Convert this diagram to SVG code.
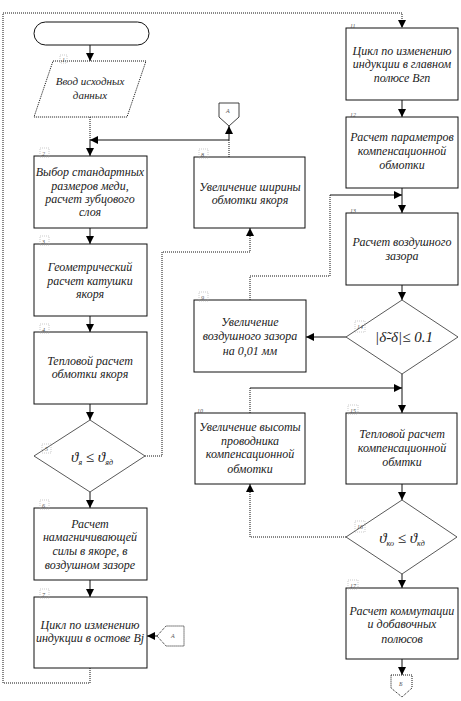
<svg xmlns="http://www.w3.org/2000/svg" width="461" height="701" viewBox="0 0 461 701">
<style>
.b{fill:#fff;stroke:#111;stroke-width:1}
.t{font-family:'Liberation Serif','Times New Roman',serif;font-style:italic;font-size:12px;fill:#222;text-anchor:middle}
.f{font-family:'Liberation Serif','Times New Roman',serif;font-style:italic;font-size:15px;fill:#222;text-anchor:middle}
.n{font-family:'Liberation Serif',serif;font-style:italic;font-size:6px;fill:#555}
.nb{fill:none;stroke:#aaa;stroke-width:0.6;stroke-dasharray:1 1}
.c{fill:none;stroke:#111;stroke-width:1}
.d{fill:none;stroke:#111;stroke-width:1;stroke-dasharray:1 1}
</style>
<defs>
<marker id="a" markerUnits="userSpaceOnUse" markerWidth="9" markerHeight="8" refX="8" refY="4" orient="auto">
<path d="M0,0 L8,4 L0,8 Z" fill="#000"/>
</marker>
</defs>
<g id="connectors">
<path class="c" d="M90,45 V61" marker-end="url(#a)"/>
<path class="d" d="M90,117 V140"/>
<path class="c" d="M90,140 V156" marker-end="url(#a)"/>
<path class="d" d="M229,157 V140"/>
<path class="c" d="M229,140 V126" marker-end="url(#a)"/>
<path class="c" d="M229,140 H90" marker-end="url(#a)"/>
<path class="c" d="M90,228 V244" marker-end="url(#a)"/>
<path class="c" d="M90,316 V332" marker-end="url(#a)"/>
<path class="c" d="M90,404 V420" marker-end="url(#a)"/>
<path class="c" d="M90,492 V508" marker-end="url(#a)"/>
<path class="c" d="M90,580 V597" marker-end="url(#a)"/>
<path class="c" d="M157,636 H147" marker-end="url(#a)"/>
<path class="d" d="M90,668 V683 H3 V13 H402 V28" marker-end="url(#a)"/>
<path class="d" d="M145,456 H162 V252 H250 V228" marker-end="url(#a)"/>
<path class="c" d="M402,100 V117" marker-end="url(#a)"/>
<path class="c" d="M402,188 V213" marker-end="url(#a)"/>
<path class="d" d="M250,300 V276 H330 V195"/>
<path class="c" d="M330,195 H402" marker-end="url(#a)"/>
<path class="c" d="M402,285 V300" marker-end="url(#a)"/>
<path class="c" d="M346,337 H306" marker-end="url(#a)"/>
<path class="c" d="M402,374 V413" marker-end="url(#a)"/>
<path class="d" d="M250,413 V388"/>
<path class="c" d="M250,388 H402" marker-end="url(#a)"/>
<path class="c" d="M402,484 V500" marker-end="url(#a)"/>
<path class="d" d="M346,537 H250 V484" marker-end="url(#a)"/>
<path class="c" d="M402,574 V588" marker-end="url(#a)"/>
<path class="c" d="M402,659 V675" marker-end="url(#a)"/>
</g>
<g id="start"><rect class="b" x="34" y="22" width="115" height="23" rx="11.5"/></g>
<g id="n1">
<path class="b" d="M53,61 H146 L127,117 H34 Z" style="stroke-dasharray:1 1"/>
<rect class="nb" x="60" y="55" width="7" height="8"/><text class="n" x="62" y="62">1</text>
<text class="t" x="90" y="85" style="font-size:11px">Ввод исходных</text>
<text class="t" x="90" y="99" style="font-size:11px">данных</text>
</g>
<g id="n2">
<rect class="b" x="34" y="156" width="113" height="72"/>
<rect class="nb" x="40" y="148" width="9" height="9"/><text class="n" x="42" y="156">2</text>
<text class="t" x="90" y="176">Выбор стандартных</text>
<text class="t" x="90" y="190">размеров меди,</text>
<text class="t" x="90" y="203">расчет зубцового</text>
<text class="t" x="90" y="216">слоя</text>
</g>
<g id="n3">
<rect class="b" x="34" y="244" width="113" height="72"/>
<rect class="nb" x="40" y="236" width="9" height="9"/><text class="n" x="42" y="244">3</text>
<text class="t" x="90" y="271">Геометрический</text>
<text class="t" x="90" y="285">расчет катушки</text>
<text class="t" x="90" y="298">якоря</text>
</g>
<g id="n4">
<rect class="b" x="34" y="332" width="113" height="72"/>
<rect class="nb" x="40" y="324" width="9" height="9"/><text class="n" x="42" y="332">4</text>
<text class="t" x="90" y="365">Тепловой расчет</text>
<text class="t" x="90" y="378">обмотки якоря</text>
</g>
<g id="n5">
<path class="b" d="M90,420 L145,456 L90,492 L34,456 Z" style="stroke-width:0.7"/>
<rect class="nb" x="42" y="444" width="9" height="9"/><text class="n" x="45" y="451">5</text>
<text class="f" x="92" y="462">ϑ<tspan font-size="8" dy="3">я</tspan><tspan dy="-3"> ≤ ϑ</tspan><tspan font-size="8" dy="3">яд</tspan></text>
</g>
<g id="n6">
<rect class="b" x="34" y="508" width="113" height="72"/>
<rect class="nb" x="40" y="500" width="9" height="9"/><text class="n" x="42" y="508">6</text>
<text class="t" x="90" y="528">Расчет</text>
<text class="t" x="90" y="541">намагничивающей</text>
<text class="t" x="90" y="555">силы в якоре, в</text>
<text class="t" x="90" y="569">воздушном зазоре</text>
</g>
<g id="n7">
<rect class="b" x="34" y="597" width="113" height="71"/>
<rect class="nb" x="40" y="589" width="9" height="9"/><text class="n" x="42" y="597">7</text>
<text class="t" x="90" y="629">Цикл по изменению</text>
<text class="t" x="90" y="642">индукции в остове Bj</text>
</g>
<g id="off7">
<path class="b" d="M157,636 L166,626 H184 V646 H166 Z" style="stroke-dasharray:1 1"/>
<text class="n" x="171" y="638">А</text>
</g>
<g id="n8">
<rect class="b" x="194" y="157" width="111" height="71"/>
<rect class="nb" x="199" y="149" width="9" height="9"/><text class="n" x="201" y="157">8</text>
<text class="t" x="250" y="191">Увеличение ширины</text>
<text class="t" x="250" y="204">обмотки якоря</text>
</g>
<g id="off8">
<path class="b" d="M219,103 H239 V117 L229,126 L219,117 Z" style="stroke-width:0.8"/>
<text class="n" x="226" y="113">А</text>
</g>
<g id="n9">
<rect class="b" x="194" y="300" width="112" height="72"/>
<rect class="nb" x="199" y="292" width="9" height="9"/><text class="n" x="201" y="300">9</text>
<text class="t" x="250" y="326">Увеличение</text>
<text class="t" x="250" y="340">воздушного зазора</text>
<text class="t" x="250" y="355">на 0,01 мм</text>
</g>
<g id="n10">
<rect class="b" x="195" y="413" width="110" height="71"/>
<text class="n" x="197" y="413">10</text>
<text class="t" x="250" y="431">Увеличение высоты</text>
<text class="t" x="250" y="445">проводника</text>
<text class="t" x="250" y="458">компенсационной</text>
<text class="t" x="250" y="473">обмотки</text>
</g>
<g id="n11">
<rect class="b" x="346" y="28" width="112" height="72"/>
<text class="n" x="350" y="28">11</text>
<text class="t" x="402" y="55">Цикл по изменению</text>
<text class="t" x="402" y="68">индукции в главном</text>
<text class="t" x="402" y="82">полюсе Вгп</text>
</g>
<g id="n12">
<rect class="b" x="346" y="117" width="112" height="71"/>
<text class="n" x="350" y="117">12</text>
<text class="t" x="402" y="141">Расчет параметров</text>
<text class="t" x="402" y="155">компенсационной</text>
<text class="t" x="402" y="169">обмотки</text>
</g>
<g id="n13">
<rect class="b" x="346" y="213" width="112" height="72"/>
<text class="n" x="350" y="213">13</text>
<text class="t" x="402" y="246">Расчет воздушного</text>
<text class="t" x="402" y="260">зазора</text>
</g>
<g id="n14">
<path class="b" d="M402,300 L458,337 L402,374 L346,337 Z" style="stroke-width:0.7"/>
<rect class="nb" x="355" y="321" width="10" height="11"/><text class="n" x="357" y="329">14</text>
<text class="f" x="404" y="342">|δ̃-δ|≤ 0.1</text>
</g>
<g id="n15">
<rect class="b" x="346" y="413" width="111" height="71"/>
<rect class="nb" x="348" y="405" width="10" height="9"/><text class="n" x="350" y="413">15</text>
<text class="t" x="402" y="438">Тепловой расчет</text>
<text class="t" x="402" y="452">компенсационной</text>
<text class="t" x="402" y="466">обмтки</text>
</g>
<g id="n16">
<path class="b" d="M402,500 L457,537 L402,574 L346,537 Z" style="stroke-width:0.7"/>
<rect class="nb" x="355" y="521" width="10" height="11"/><text class="n" x="357" y="529">16</text>
<text class="f" x="402" y="543">ϑ<tspan font-size="8" dy="3">ко</tspan><tspan dy="-3"> ≤ ϑ</tspan><tspan font-size="8" dy="3">кд</tspan></text>
</g>
<g id="n17">
<rect class="b" x="346" y="588" width="112" height="71"/>
<rect class="nb" x="348" y="580" width="10" height="9"/><text class="n" x="350" y="588">17</text>
<text class="t" x="402" y="615">Расчет коммутации</text>
<text class="t" x="402" y="628">и добавочных</text>
<text class="t" x="402" y="643">полюсов</text>
</g>
<g id="off17">
<path class="b" d="M391,675 H412 V688 L402,697 L391,688 Z" style="stroke-dasharray:1 1"/>
<text class="n" x="399" y="686">Б</text>
</g>
</svg>
